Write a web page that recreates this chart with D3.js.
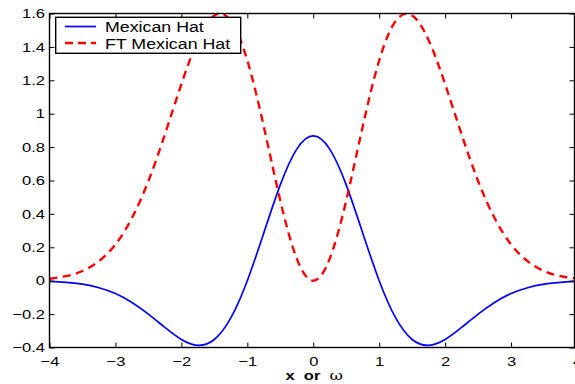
<!DOCTYPE html>
<html>
<head>
<meta charset="utf-8">
<script src="https://cdn.jsdelivr.net/npm/d3@7"></script>
<style>
  html, body { margin: 0; padding: 0; background: #fff; }
  svg { display: block; }
  text { font-family: "Liberation Sans", Arial, Helvetica, sans-serif; }
</style>
</head>
<body>
<script>
// ---- data ----
const xs = [-4, -3.75, -3.5, -3.25, -3, -2.75, -2.5, -2.25, -2, -1.75, -1.5, -1.25, -1, -0.75, -0.5, -0.25,
            0, 0.25, 0.5, 0.75, 1, 1.25, 1.5, 1.75, 2, 2.25, 2.5, 2.75, 3, 3.25, 3.5, 3.75, 4];
const mexicanHat = [-0.004, -0.010, -0.021, -0.042, -0.077, -0.130, -0.200, -0.280, -0.352, -0.387, -0.352, -0.223,
                    0.000, 0.286, 0.574, 0.788, 0.867, 0.788, 0.574, 0.286, 0.000, -0.223, -0.352, -0.387,
                    -0.352, -0.280, -0.200, -0.130, -0.077, -0.042, -0.021, -0.010, -0.004];
const ftMexicanHat = [0.012, 0.027, 0.058, 0.117, 0.217, 0.375, 0.597, 0.876, 1.177, 1.440, 1.588, 1.555,
                      1.319, 0.923, 0.480, 0.132, 0.000, 0.132, 0.480, 0.923, 1.319, 1.555, 1.588, 1.440,
                      1.177, 0.876, 0.597, 0.375, 0.217, 0.117, 0.058, 0.027, 0.012];
const seriesNames = ["Mexican Hat", "FT Mexican Hat"];
const xTicks = [-4, -3, -2, -1, 0, 1, 2, 3, 4];
const xTickLabels = ["\u22124", "\u22123", "\u22122", "\u22121", "0", "1", "2", "3", "4"];
const yTicks = [-0.4, -0.2, 0, 0.2, 0.4, 0.6, 0.8, 1, 1.2, 1.4, 1.6];
const yTickLabels = ["\u22120.4", "\u22120.2", "0", "0.2", "0.4", "0.6", "0.8", "1", "1.2", "1.4", "1.6"];
const xLabel = ["x  or  ", "\u03c9"];

// ---- layout ----
const W = 575, H = 384;
const pLeft = 49.5, pRight = 577, pTop = 13.5, pBottom = 347.5;
const frameRight = 574.5;
const SX = 1.27; // horizontal text stretch of the reference

const svg = d3.select("body").append("svg").attr("width", W).attr("height", H);

const x = d3.scaleLinear().domain([-4, 4]).range([pLeft, pRight]);
const y = d3.scaleLinear().domain([-0.4, 1.6]).range([pBottom, pTop]);

// curves
const rows = xs.map((v, i) => ({x: v, a: mexicanHat[i], b: ftMexicanHat[i]}));
const lineA = d3.line().x(d => x(d.x)).y(d => y(d.a)).curve(d3.curveNatural);
const lineB = d3.line().x(d => x(d.x)).y(d => y(d.b)).curve(d3.curveNatural);

svg.append("path").datum(rows).attr("d", lineA)
  .attr("fill", "none").attr("stroke", "#0000ff").attr("stroke-width", 1.7);
svg.append("path").datum(rows).attr("d", lineB)
  .attr("fill", "none").attr("stroke", "#ff0000").attr("stroke-width", 2.4)
  .attr("stroke-dasharray", "8,5.5");

// axes (ticks inward)
const axB = d3.axisBottom(x).tickValues(xTicks).tickSizeInner(-5).tickSizeOuter(0)
  .tickFormat((d, i) => xTickLabels[i]).tickPadding(9);
const axT = d3.axisTop(x).tickValues(xTicks).tickSizeInner(-5).tickSizeOuter(0).tickFormat("");
const axL = d3.axisLeft(y).tickValues(yTicks).tickSizeInner(-5).tickSizeOuter(0)
  .tickFormat((d, i) => yTickLabels[i]).tickPadding(9);
const axR = d3.axisRight(y).tickValues(yTicks).tickSizeInner(-5).tickSizeOuter(0).tickFormat("");

function style(g) {
  g.select(".domain").remove();
  g.selectAll(".tick line").attr("stroke", "#000").attr("stroke-width", 1);
  g.selectAll(".tick text").attr("fill", "#000").style("font-size", "13px")
    .style("font-family", "'Liberation Sans', Arial, sans-serif");
}
const gB = svg.append("g").attr("transform", `translate(0,${pBottom})`).call(axB).call(style);
gB.selectAll(".tick text").attr("transform", `scale(${SX},1)`).attr("dy", "0.71em");
svg.append("g").attr("transform", `translate(0,${pTop})`).call(axT).call(style);
const gL = svg.append("g").attr("transform", `translate(${pLeft},0)`).call(axL).call(style);
gL.selectAll(".tick text").attr("x", -4.5 / SX).attr("transform", `scale(${SX},1)`);
svg.append("g").attr("transform", `translate(${frameRight},0)`).call(axR).call(style);

// frame
svg.append("rect").attr("x", pLeft).attr("y", pTop)
  .attr("width", frameRight - pLeft).attr("height", pBottom - pTop)
  .attr("fill", "none").attr("stroke", "#000").attr("stroke-width", 1.4);

// x label
const xl = svg.append("text")
  .attr("transform", `translate(${x(0) + 1},380) scale(${SX},1)`)
  .attr("text-anchor", "middle").style("font-size", "13px").style("white-space", "pre")
  .attr("xml:space", "preserve").attr("fill", "#000");
xl.append("tspan").style("font-weight", "bold").text(xLabel[0]);
xl.append("tspan").style("font-family", "'DejaVu Serif', 'Liberation Serif', serif").style("font-size", "13px").text(xLabel[1]);

// legend
const lg = svg.append("g");
lg.append("rect").attr("x", 55.7).attr("y", 17.3).attr("width", 185).attr("height", 36)
  .attr("fill", "#fff").attr("stroke", "#000").attr("stroke-width", 1.4);
const legendStyles = [
  {stroke: "#0000ff", w: 1.7, dash: null},
  {stroke: "#ff0000", w: 2.4, dash: "8,5"}
];
seriesNames.forEach((name, i) => {
  const cy = 26.5 + i * 16.5;
  lg.append("line").attr("x1", 65).attr("x2", 96).attr("y1", cy).attr("y2", cy)
    .attr("stroke", legendStyles[i].stroke).attr("stroke-width", legendStyles[i].w)
    .attr("stroke-dasharray", legendStyles[i].dash);
  lg.append("text").attr("transform", `translate(105,${cy + 5.5}) scale(${SX},1)`)
    .style("font-size", "14px").attr("fill", "#000").text(name);
});
</script>
</body>
</html>
